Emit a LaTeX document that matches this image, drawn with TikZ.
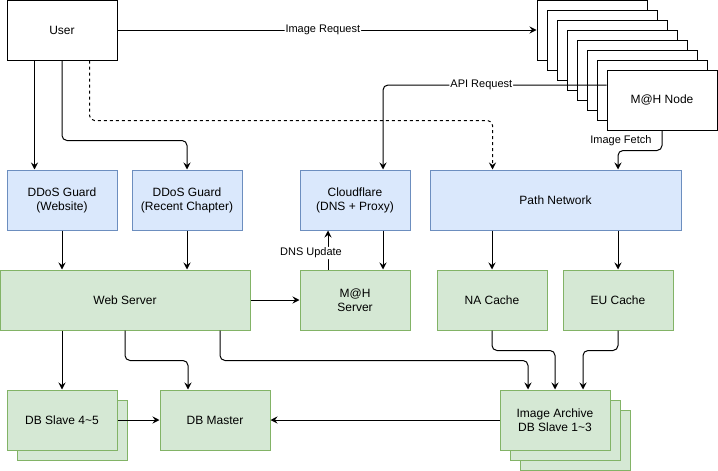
\documentclass[tikz,border=0pt]{standalone}
\usepackage{fontspec}
\setmainfont{Liberation Sans}
\usetikzlibrary{arrows.meta,%
                positioning}

\definecolor{blueFill}{HTML}{DAE8FC}
\definecolor{blueLine}{HTML}{6C8EBF}
\definecolor{greenFill}{HTML}{D5E8D4}
\definecolor{greenLine}{HTML}{82B366}

\tikzset{
    box/.style={draw, line width=1pt, minimum width=110pt, minimum height=60pt,
                align=center, inner sep=0pt, font=\fontsize{12}{14}\selectfont},
    plainbox/.style={box, fill=white, draw=black},
    bluebox/.style={box, fill=blueFill, draw=blueLine},
    greenbox/.style={box, fill=greenFill, draw=greenLine},
    link/.style={line width=1pt, -{Stealth[length=7pt,width=7pt,inset=2.5pt]}, rounded corners=5pt},
    lbl/.style={fill=white, inner sep=1pt, font=\fontsize{11}{13}\selectfont}
}

\begin{document}
\begin{tikzpicture}[x=1pt, y=-1pt]
        \useasboundingbox (0,0) rectangle (718,471);

        \node[plainbox] (user) at (62,30) {User};
        \foreach \i in {0,...,6}
            \node[plainbox] (mah\i) at (592+10*\i, 30+10*\i) {};
        \node[plainbox] (mahnode) at (662,100) {M@H Node};

        \node[bluebox] (ddosweb) at (62,200) {DDoS Guard\\(Website)};
        \node[bluebox] (ddosrc) at (187,200) {DDoS Guard\\(Recent Chapter)};
        \node[bluebox] (cloudflare) at (355,200) {Cloudflare\\(DNS + Proxy)};
        \node[bluebox, minimum width=251pt] (pathnet) at (555.5,200) {Path Network};

        \node[greenbox, minimum width=250pt] (webserver) at (125,300) {Web Server};
        \node[greenbox] (mahserver) at (355,300) {M@H\\Server};
        \node[greenbox] (nacache) at (492,300) {NA Cache};
        \node[greenbox] (eucache) at (618,300) {EU Cache};

        \node[greenbox] (dbslaveb) at (72,430) {};
        \node[greenbox] (dbslave) at (62,420) {DB Slave 4\textasciitilde5};
        \node[greenbox] (dbmaster) at (215,420) {DB Master};
        \node[greenbox] (archivec) at (575,440) {};
        \node[greenbox] (archiveb) at (565,430) {};
        \node[greenbox] (archive) at (555,420) {Image Archive\\DB Slave 1\textasciitilde3};

        \draw[link] (user.east) -- (mah0.west) node[lbl, pos=0.49] {Image Request};
        \draw[link] ([yshift=15pt]mahnode.west) -| ([xshift=28pt]cloudflare.north)
            node[lbl, pos=0.28] {API Request};
        \draw[link] (mahnode.south) -- ++(0,20) node[midway, left=10pt, font=\fontsize{11}{13}\selectfont, inner sep=0pt] {Image Fetch}
            -| (eucache.north |- pathnet.north);
        \draw[link, dashed] ([xshift=83pt]user.south west) -- ++(0,60) -| ([xshift=63pt]pathnet.north west);
        \draw[link] ([xshift=28pt]user.south west) -- ([xshift=28pt]ddosweb.north west);
        \draw[link] (user.south) -- ++(0,80) -| (ddosrc.north);

        \draw[link] (ddosweb.south) -- (ddosweb.south |- webserver.north);
        \draw[link] (ddosrc.south) -- (ddosrc.south |- webserver.north);
        \draw[link] (webserver.east) -- (mahserver.west);
        \draw[link] ([xshift=-27pt]mahserver.north) -- ([xshift=-27pt]cloudflare.south)
            node[lbl, midway, xshift=-17pt, yshift=-3pt] {DNS Update};
        \draw[link] ([xshift=28pt]cloudflare.south) -- ([xshift=28pt]mahserver.north);
        \draw[link] (nacache.north |- pathnet.south) -- (nacache.north);
        \draw[link] (eucache.north |- pathnet.south) -- (eucache.north);

        \draw[link] (dbslave.north |- webserver.south) -- (dbslave.north);
        \draw[link] (webserver.south) -- ++(0,30) -| ([xshift=-27pt]dbmaster.north);
        \draw[link] ([xshift=95pt]webserver.south) -- ++(0,30) -| ([xshift=-27pt]archive.north);
        \draw[link] (nacache.south) -- ++(0,20) -| (archive.north);
        \draw[link] (eucache.south) -- ++(0,20) -| ([xshift=28pt]archive.north);
        \draw[link] (dbslave.east) -- (dbmaster.west);
        \draw[link] (archive.west) -- (dbmaster.east);
\end{tikzpicture}
\end{document}
